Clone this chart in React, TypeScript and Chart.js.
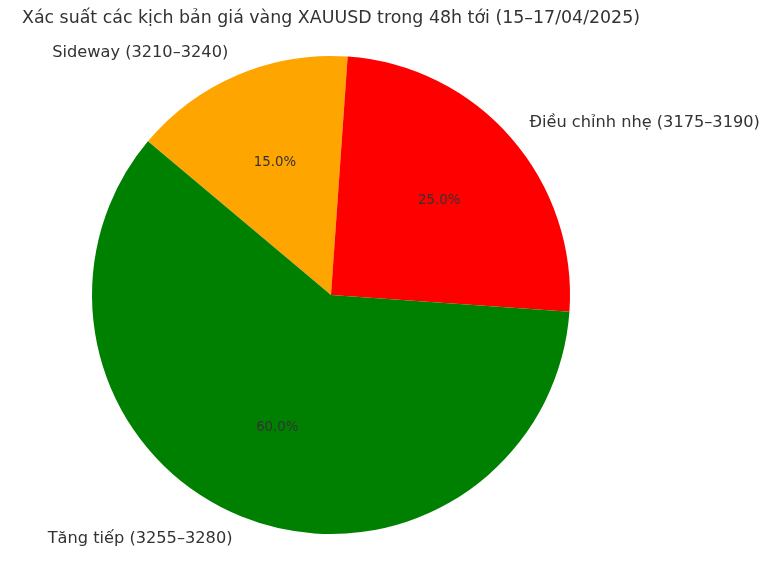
import { Chart, registerables } from "chart.js";
import { useEffect, useRef } from "react";

Chart.register(...registerables);

const TITLE = "Xác suất các kịch bản giá vàng XAUUSD trong 48h tới (15–17/04/2025)";
// clockwise order (Chart.js draws clockwise)
const labels = ["Sideway (3210–3240)", "Điều chỉnh nhẹ (3175–3190)", "Tăng tiếp (3255–3280)"];
const values = [15, 25, 60];
const colors = ["#ffa500", "#ff0000", "#008000"];

const FONT = "'DejaVu Sans', sans-serif";
const TEXT = "#333333";

const textPlugin = {
  id: "pieText",
  afterDraw(chart: any) {
    const ctx = chart.ctx;
    const arc = chart.getDatasetMeta(0).data;
    ctx.save();
    ctx.fillStyle = TEXT;
    ctx.textBaseline = "middle";
    arc.forEach((el: any, i: number) => {
      const { x, y, startAngle, endAngle, outerRadius } = el.getProps(
        ["x", "y", "startAngle", "endAngle", "outerRadius"],
        true,
      );
      const mid = (startAngle + endAngle) / 2;
      const cos = Math.cos(mid);
      const sin = Math.sin(mid);
      // outer label
      ctx.font = `16.2px ${FONT}`;
      ctx.textAlign = cos < 0 ? "right" : "left";
      ctx.fillText(labels[i], x + cos * outerRadius * 1.1, y + sin * outerRadius * 1.1);
      // percentage
      ctx.font = `13.3px ${FONT}`;
      ctx.textAlign = "center";
      const total = values.reduce((a, b) => a + b, 0);
      const pct = ((values[i] / total) * 100).toFixed(1) + "%";
      ctx.fillText(pct, x + cos * outerRadius * 0.6, y + sin * outerRadius * 0.6);
    });
    // title
    ctx.font = `17.4px ${FONT}`;
    ctx.textAlign = "center";
    ctx.fillText(TITLE, chart.chartArea.left + (chart.chartArea.right - chart.chartArea.left) / 2, 18);
    ctx.restore();
  },
};

export default function App() {
  const canvasRef = useRef<HTMLCanvasElement>(null);

  useEffect(() => {
    document.body.style.margin = "0";
    if (!canvasRef.current) return;
    const chart = new Chart(canvasRef.current, {
      type: "pie",
      data: {
        labels,
        datasets: [{ data: values, backgroundColor: colors, borderWidth: 0 }],
      },
      options: {
        animation: false,
        responsive: false,
        rotation: -50,
        layout: { padding: { left: 92, right: 198, top: 56, bottom: 34 } },
        plugins: { legend: { display: false }, tooltip: { enabled: false } },
      },
      plugins: [textPlugin],
    });
    return () => chart.destroy();
  }, []);

  return <canvas ref={canvasRef} width={768} height={568} style={{ display: "block" }} />;
}
